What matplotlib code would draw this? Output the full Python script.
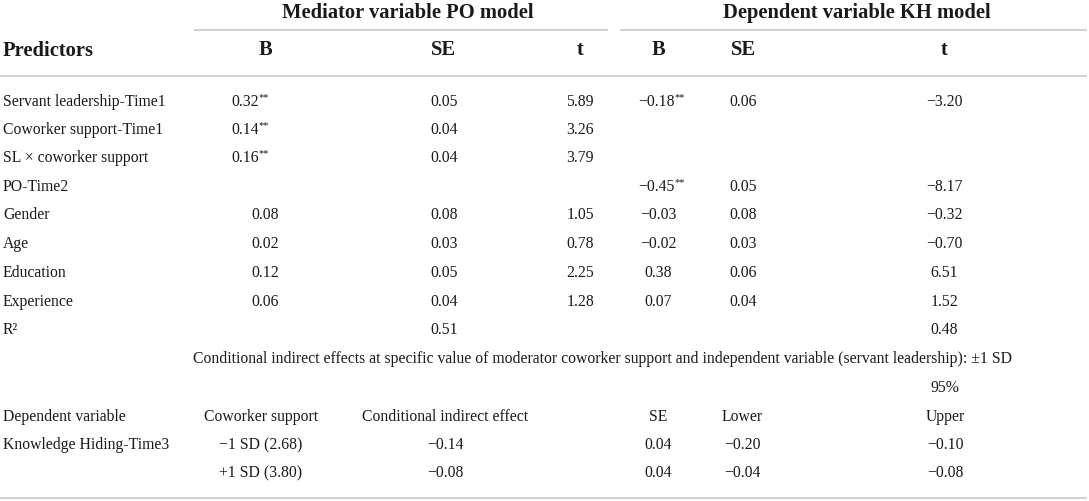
"""Regression table: mediator (PO) and dependent (KH) models, drawn as text."""

import matplotlib

matplotlib.use("Agg")
import matplotlib.pyplot as plt

# Upper panel data
predictors = [
    "Servant leadership-Time1",
    "Coworker support-Time1",
    "SL × coworker support",
    "PO-Time2",
    "Gender",
    "Age",
    "Education",
    "Experience",
    "R²",
]
med_b = ["0.32", "0.14", "0.16", "", "0.08", "0.02", "0.12", "0.06", ""]
med_b_sig = [True, True, True, False, False, False, False, False, False]
med_se = ["0.05", "0.04", "0.04", "", "0.08", "0.03", "0.05", "0.04", "0.51"]
med_t = ["5.89", "3.26", "3.79", "", "1.05", "0.78", "2.25", "1.28", ""]
kh_b = ["−0.18", "", "", "−0.45", "−0.03", "−0.02", "0.38", "0.07", ""]
kh_b_sig = [True, False, False, True, False, False, False, False, False]
kh_se = ["0.06", "", "", "0.05", "0.08", "0.03", "0.06", "0.04", ""]
kh_t = ["−3.20", "", "", "−8.17", "−0.32", "−0.70", "6.51", "1.52", "0.48"]

# Lower panel data
cond_title = ("Conditional indirect effects at specific value of moderator coworker "
              "support and independent variable (servant leadership): ±1 SD")
cond_headers = ["Dependent variable", "Coworker support", "Conditional indirect effect",
                "SE", "Lower", "Upper"]
dep_var = ["Knowledge Hiding-Time3", ""]
moderator_levels = ["−1 SD (2.68)", "+1 SD (3.80)"]
indirect_effect = ["−0.14", "−0.08"]
indirect_se = ["0.04", "0.04"]
ci_lower = ["−0.20", "−0.04"]
ci_upper = ["−0.10", "−0.08"]

W, H = 1089, 502
FONT = "Liberation Serif"
TXT = "#1a1a1a"
RULE = "#d2d2d2"
BODY = 11.3
HEAD = 14.8

plt.rcParams["font.family"] = [FONT, "DejaVu Serif"]

fig = plt.figure(figsize=(W / 100, H / 100), dpi=100)
ax = fig.add_axes([0, 0, 1, 1])
ax.set_xlim(0, W)
ax.set_ylim(H, 0)
ax.axis("off")


def put(x, y, s, ha="center", size=BODY, bold=False):
    ax.text(x, y, s, ha=ha, va="center", fontsize=size, color=TXT,
            fontweight="bold" if bold else "normal")


def put_sig(x_right, y, s):
    # number right-aligned, superscript stars after it
    ax.text(x_right, y, s, ha="right", va="center", fontsize=BODY, color=TXT)
    ax.text(x_right - 0.5, y - 4, "**", ha="left", va="center", fontsize=7.5, color=TXT)


def rule(y, x0=0, x1=1087):
    ax.plot([x0, x1], [y, y], color=RULE, lw=1.5, solid_capstyle="butt")


# Group headers
put(408, 13, "Mediator variable PO model", size=HEAD, bold=True)
put(857, 13, "Dependent variable KH model", size=HEAD, bold=True)
rule(31, 194, 608)
rule(31, 620, 1087)

# Column headers
col_x = [265, 444, 580, 658, 743, 944]
star_right = {0: 259, 3: 675}
put(3, 51, "Predictors", ha="left", size=HEAD, bold=True)
for x, lab in zip(col_x, ["B", "SE", "t", "B", "SE", "t"]):
    put(x, 50, lab, size=HEAD, bold=True)
rule(77)

row_y = [102, 130, 158, 187, 215, 244, 273, 302, 330]
cols = [med_b, med_se, med_t, kh_b, kh_se, kh_t]
sigs = {0: med_b_sig, 3: kh_b_sig}
for i, y in enumerate(row_y):
    put(3, y, predictors[i], ha="left")
    for c, vals in enumerate(cols):
        v = vals[i]
        if not v:
            continue
        if c in sigs and sigs[c][i]:
            put_sig(star_right[c], y, v)
        else:
            put(col_x[c], y, v)

# Conditional indirect effects block
ax.text(193, 359, cond_title, ha="left", va="center", fontsize=BODY, color=TXT)
put(945, 388, "95%")
low_x = [3, 261, 445, 658, 742, 945]
for j, lab in enumerate(cond_headers):
    put(low_x[j], 417, lab, ha="left" if j == 0 else "center")

low_y = [445, 473]
for i, y in enumerate(low_y):
    row = [dep_var[i], moderator_levels[i], indirect_effect[i],
           indirect_se[i], ci_lower[i], ci_upper[i]]
    for j, v in enumerate(row):
        if v:
            put(low_x[j], y, v, ha="left" if j == 0 else "center")

rule(499)

fig.savefig("out.png", dpi=100)
